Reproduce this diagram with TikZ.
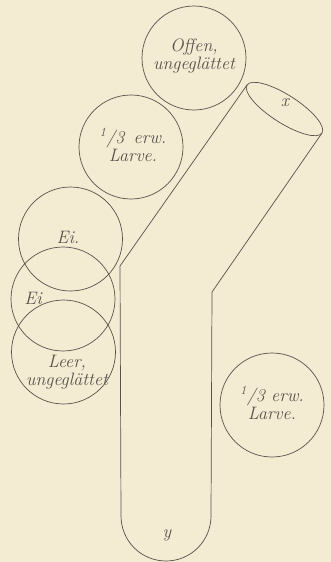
\documentclass[tikz,border=0pt]{standalone}
\usepackage{fontspec}
\begin{document}
\begin{tikzpicture}[x=1pt,y=-1pt,
  ink/.style={draw=inkc, line width=0.7pt},
  circ/.style={ink, circle, minimum size=104pt, inner sep=0pt},
  lbl/.style={text=inkc, font=\fontsize{18}{18}\selectfont\itshape, align=center, inner sep=0pt},
  ]
\definecolor{bgc}{HTML}{F4EBD3}
\definecolor{inkc}{HTML}{57514A}
\fill[bgc] (0,0) rectangle (331,562);
\useasboundingbox (0,0) rectangle (331,562);

% circles
\node[circ] (offen) at (194,58) {};
\node[circ] (larveA) at (131,147) {};
\node[circ] (eiA) at (70.5,239) {};
\node[circ] (eiB) at (63,299) {};
\node[circ] (leer) at (63.5,352) {};
\node[circ] (larveB) at (272,405) {};

% labels
\node[lbl] (tOffen) at (194,56) {Offen,\\ungeglättet};
\node[lbl] (tLarveA) at (133,145) {\textsuperscript{1}/3\, erw.\\Larve.};
\node[lbl] (tEiA) at (68,237) {Ei.};
\node[lbl] (tEiB) at (33,298) {Ei};
\node[lbl] (tLeer) at (67,372) {Leer,\\ungeglättet};
\node[lbl] (tLarveB) at (272,403) {\textsuperscript{1}/3 erw.\\Larve.};

% cylinder
\coordinate (A) at (247,85);
\coordinate (B) at (322,133);
\coordinate (C) at (120,266);
\coordinate (D) at (212,292);
\draw[ink, shift={(284.5,109)}, rotate=-32.6] (0,0) ellipse [x radius=44.5, y radius=14];
\draw[ink] (A) -- (C) -- (121,516) arc[start angle=180, end angle=0, radius=45] -- (D) -- (B);

\node[lbl] (tx) at (285,103) {x};
\node[lbl] (ty) at (167,535) {y};
\end{tikzpicture}
\end{document}
